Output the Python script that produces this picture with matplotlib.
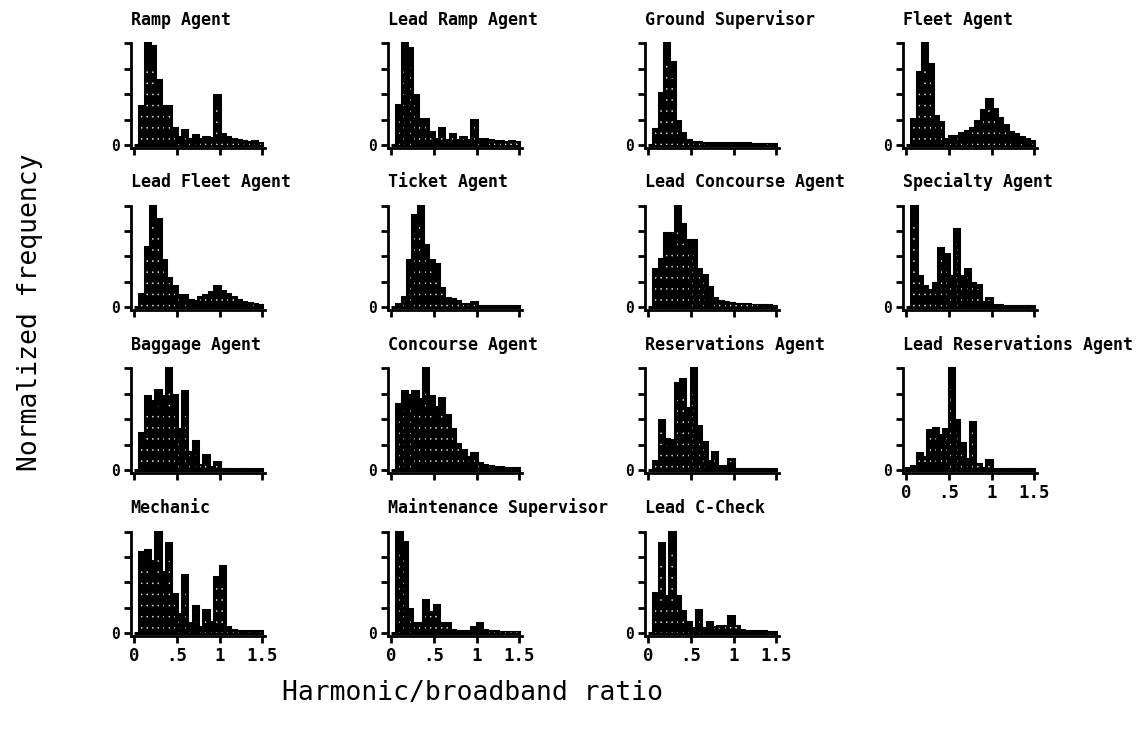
import numpy as np
import matplotlib
matplotlib.use("Agg")
import matplotlib.pyplot as plt

# Histogram bins: width 1/16 on the harmonic/broadband ratio axis
bin_width = 1.0 / 16
bin_centers = (np.arange(24) + 0.5) * bin_width

titles = [
    "Ramp Agent", "Lead Ramp Agent", "Ground Supervisor", "Fleet Agent",
    "Lead Fleet Agent", "Ticket Agent", "Lead Concourse Agent", "Specialty Agent",
    "Baggage Agent", "Concourse Agent", "Reservations Agent", "Lead Reservations Agent",
    "Mechanic", "Maintenance Supervisor", "Lead C-Check",
]

ramp_agent = [0, .38, 1.0, .98, .64, .38, .38, .17, .08, .15, .06, .10, .06, .075, .065, .49, .11, .08, .06, .05, .04, .03, .04, .02]
lead_ramp_agent = [0, .39, 1.0, .96, .49, .26, .26, .13, .06, .17, .05, .11, .05, .075, .05, .245, .06, .055, .05, .04, .035, .03, .04, .03]
ground_supervisor = [0, .16, .51, 1.0, .82, .235, .12, .05, .03, .03, .02, .02, .02, .015, .015, .015, .02, .015, .015, .01, .01, .01, .01, .01]
fleet_agent = [0, .26, .72, 1.0, .80, .29, .23, .06, .09, .09, .12, .14, .17, .24, .34, .45, .35, .27, .20, .13, .11, .075, .06, .04]
lead_fleet_agent = [0, .13, .59, 1.0, .87, .46, .29, .21, .12, .12, .07, .06, .10, .12, .15, .21, .16, .13, .10, .07, .05, .04, .03, .02]
ticket_agent = [0, .03, .10, .46, .91, 1.0, .61, .46, .42, .19, .09, .075, .06, .03, .03, .05, .01, .01, .01, .01, .01, .01, .01, .01]
lead_concourse_agent = [0, .37, .47, .73, .73, 1.0, .82, .66, .66, .37, .32, .20, .09, .06, .05, .04, .03, .03, .025, .02, .02, .015, .015, .01]
specialty_agent = [0, 1.0, .31, .21, .17, .24, .58, .52, .31, .77, .31, .37, .24, .22, .05, .09, .02, .015, .01, .01, .01, .01, .01, .01]
baggage_agent = [0, .36, .73, .68, .79, .73, 1.0, .74, .40, .78, .18, .29, .05, .15, .03, .08, .01, .01, .01, .01, .01, .01, .01, .01]
concourse_agent = [0, .65, .78, .74, .78, .70, 1.0, .73, .62, .71, .54, .40, .26, .20, .13, .17, .07, .05, .04, .03, .025, .02, .02, .015]
reservations_agent = [0, .085, .49, .31, .30, .86, .90, .61, 1.0, .43, .28, .09, .18, .04, .04, .11, .01, .01, .01, .01, .01, .01, .01, .01]
lead_reservations_agent = [.02, .04, .17, .13, .39, .41, .34, .40, 1.0, .49, .27, .11, .47, .06, .02, .10, .01, .01, .01, .01, .01, .01, .01, .01]
mechanic = [0, .80, .82, .71, 1.0, .60, .89, .38, .19, .57, .10, .27, .06, .23, .11, .55, .66, .06, .03, .02, .02, .02, .02, .02]
maintenance_supervisor = [0, 1.0, .90, .24, .10, .10, .33, .21, .28, .10, .10, .03, .02, .02, .02, .055, .10, .03, .015, .015, .01, .01, .01, .01]
lead_c_check = [0, .39, .89, .36, 1.0, .36, .22, .11, .05, .23, .05, .11, .06, .065, .07, .17, .07, .03, .02, .02, .015, .015, .01, .01]

series = [
    ramp_agent, lead_ramp_agent, ground_supervisor, fleet_agent,
    lead_fleet_agent, ticket_agent, lead_concourse_agent, specialty_agent,
    baggage_agent, concourse_agent, reservations_agent, lead_reservations_agent,
    mechanic, maintenance_supervisor, lead_c_check,
]

x_ticks = [0, 0.5, 1.0, 1.5]
x_tick_labels = ["0", ".5", "1", "1.5"]
y_ticks = [0, 0.25, 0.5, 0.75, 1.0]

# panels that carry x tick labels (bottom of each column)
labeled_panels = {11, 12, 13, 14}

plt.rcParams["hatch.linewidth"] = 0.4

W, H = 1140, 731
fig = plt.figure(figsize=(W / 100, H / 100), dpi=100)

mono = "DejaVu Sans Mono"
ppu_x = 85.5          # pixels per unit of ratio
ppu_y = 101.5         # pixels per unit of normalized frequency
xlim = (-0.04, 1.53)
ylim = (-0.025, 1.02)
col_zero = [134, 391, 648, 906]
row_zero = [145, 307, 470, 633]

for i, (title, values) in enumerate(zip(titles, series)):
    r, c = divmod(i, 4)
    left_px = col_zero[c] + xlim[0] * ppu_x
    width_px = (xlim[1] - xlim[0]) * ppu_x
    bottom_px = row_zero[r] - ylim[0] * ppu_y
    height_px = (ylim[1] - ylim[0]) * ppu_y
    ax = fig.add_axes([left_px / W, 1 - bottom_px / H, width_px / W, height_px / H])

    vals = np.asarray(values)
    ax.bar(bin_centers, vals, width=bin_width, color="black",
           edgecolor="black", linewidth=2.2, zorder=2)
    # sparse light stipple inside the lower part of each bar
    ax.bar(bin_centers, vals * 0.8, width=bin_width * 0.35, facecolor="none",
           edgecolor="#dddddd", linewidth=0, hatch="...", zorder=3)

    ax.set_xlim(*xlim)
    ax.set_ylim(*ylim)
    for side in ("top", "right"):
        ax.spines[side].set_visible(False)
    for side in ("left", "bottom"):
        ax.spines[side].set_linewidth(2.0)
    ax.spines["left"].set_bounds(ylim[0], 1.0)

    ax.set_yticks(y_ticks)
    ax.set_yticklabels(["0", "", "", "", ""], fontfamily=mono,
                       fontweight="bold", fontsize=10.5)
    ax.set_xticks(x_ticks)
    if i in labeled_panels:
        ax.set_xticklabels(x_tick_labels, fontfamily=mono,
                           fontweight="bold", fontsize=12.5)
    else:
        ax.set_xticklabels([])
    ax.tick_params(axis="both", width=2.0, length=5, pad=3, direction="out")

    ax.annotate(title, xy=(0, 1), xycoords="axes fraction",
                xytext=(0, 12), textcoords="offset points",
                ha="left", va="baseline", fontfamily=mono,
                fontweight="bold", fontsize=12)

fig.text(30 / W, 1 - 312 / H, "Normalized frequency", rotation=90,
         ha="center", va="center", fontfamily=mono, fontsize=19)
fig.text(473 / W, 1 - 700 / H, "Harmonic/broadband ratio",
         ha="center", va="baseline", fontfamily=mono, fontsize=19)

fig.savefig("out.png", dpi=100, facecolor="white")
